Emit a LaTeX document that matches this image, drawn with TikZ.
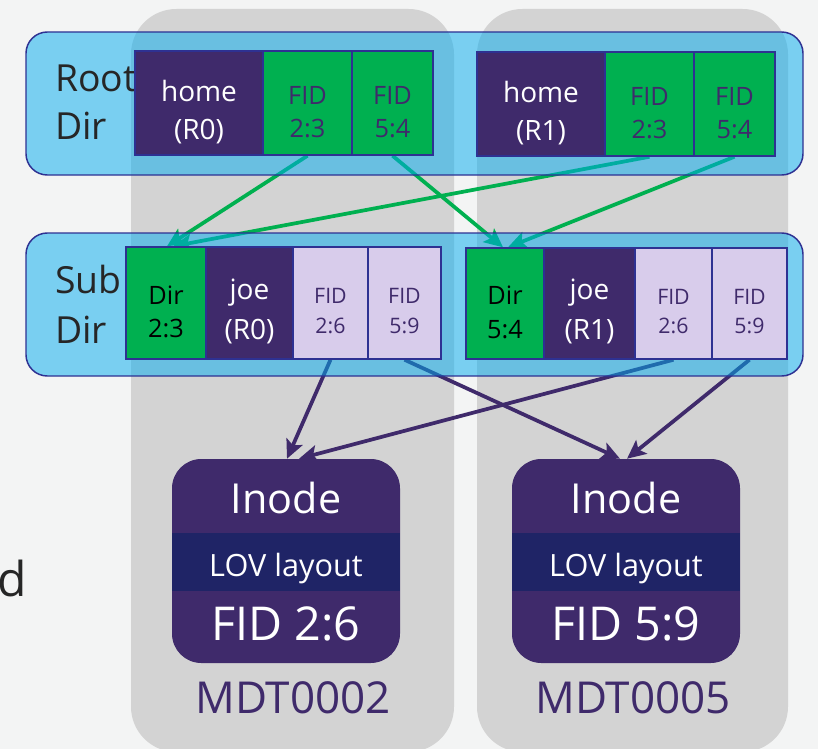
\documentclass[tikz,border=0pt]{standalone}
\usepackage{fontspec}
\setmainfont{Open Sans}
\usetikzlibrary{arrows.meta,calc,fit}

\definecolor{pagebg}{HTML}{F3F4F4}
\definecolor{colgrey}{HTML}{D3D3D3}
\definecolor{skyfill}{RGB}{0,172,240}
\definecolor{navyline}{HTML}{2E3192}
\definecolor{purp}{HTML}{3F2A6B}
\definecolor{grn}{HTML}{00B050}
\definecolor{lav}{HTML}{D8CCEB}
\definecolor{lovnavy}{HTML}{1F2466}
\definecolor{ink}{HTML}{262626}

\newcommand\txtsize[2]{\fontsize{#1}{#2}\selectfont}

\pgfdeclarelayer{backdrop}
\pgfdeclarelayer{links}
\pgfdeclarelayer{bands}
\pgfsetlayers{backdrop,links,bands,main}

\begin{document}
\begin{tikzpicture}[x=0.75pt,y=-0.75pt,
  column/.style={fill=colgrey, rounded corners=34pt},
  dirband/.style={fill=skyfill, fill opacity=0.5, draw=navyline, line width=1.1pt, rounded corners=16pt},
  bandlabel/.style={anchor=base west, inner sep=0, text=ink, font=\txtsize{28}{30}},
  cell/.style={draw=navyline, line width=1.1pt, inner sep=0},
  celltext/.style={inner sep=0, align=center},
  namecell/.style={cell, fill=purp},
  fidcell/.style={cell, fill=grn},
  childcell/.style={cell, fill=lav},
  nametext/.style={celltext, text=white, font=\txtsize{21}{28}},
  fidtext/.style={celltext, text=purp, font=\txtsize{19}{25}},
  dirtext/.style={celltext, text=black, font=\txtsize{19}{25}},
  joetext/.style={celltext, text=white, font=\txtsize{21}{30}},
  childtext/.style={celltext, text=purp, font=\txtsize{16}{22}},
  inode/.style={fill=purp, rounded corners=22pt, inner sep=0},
  inodetext/.style={anchor=base, inner sep=0, text=white},
  mdtlabel/.style={anchor=base, inner sep=0, text=purp, font=\txtsize{33}{36}},
  linktip/.style={-{Stealth[length=14pt,width=13pt,inset=3pt]}},
  greenlink/.style={draw=grn, line width=2.8pt, linktip},
  purplelink/.style={draw=purp, line width=2.8pt, linktip}
]
\useasboundingbox (0,0) rectangle (818,749);

% page, the two MDT columns
\begin{pgfonlayer}{backdrop}
  \begin{scope}
    \clip (0,0) rectangle (818,749);
    \fill[pagebg] (0,0) rectangle (818,749);
    \fill[column] (131,9) rectangle (454,752);
    \fill[column] (477,9) rectangle (788,752);
  \end{scope}
  \node[anchor=base east, inner sep=0, text=ink, font=\txtsize{36}{40}] (frag) at (27,596) {d};
\end{pgfonlayer}

% translucent directory bands with their labels
\begin{pgfonlayer}{bands}
  \path[dirband] (26,32) rectangle (803,175);
  \path[dirband] (26,233) rectangle (803,376);
  \node[bandlabel] (rootA) at (55,92) {Root};
  \node[bandlabel] (rootB) at (55,140) {Dir};
  \node[bandlabel] (subA) at (55,293) {Sub};
  \node[bandlabel] (subB) at (55,343) {Dir};
\end{pgfonlayer}

% root directory entries
\node[namecell,  fit={(135,51)(263,155)}] (rLhome) {};
\node[fidcell,   fit={(263,51)(352,155)}] (rLf23) {};
\node[fidcell,   fit={(352,51)(433,155)}] (rLf54) {};
\node[namecell,  fit={(477,52)(605,156)}] (rRhome) {};
\node[fidcell,   fit={(605,52)(694,156)}] (rRf23) {};
\node[fidcell,   fit={(694,52)(775,156)}] (rRf54) {};
\node[nametext] (rLhomeT) at ($(rLhome.center)+(0,9)$) {home\\(R0)};
\node[fidtext]  (rLf23T)  at ($(rLf23.center)+(0,9)$)  {FID\\2:3};
\node[fidtext]  (rLf54T)  at ($(rLf54.center)+(0,9)$)  {FID\\5:4};
\node[nametext] (rRhomeT) at ($(rRhome.center)+(0,9)$) {home\\(R1)};
\node[fidtext]  (rRf23T)  at ($(rRf23.center)+(0,9)$)  {FID\\2:3};
\node[fidtext]  (rRf54T)  at ($(rRf54.center)+(0,9)$)  {FID\\5:4};

% sub directory entries
\node[fidcell,   fit={(126,247)(206,359)}] (sLdir) {};
\node[namecell,  fit={(206,247)(293,359)}] (sLjoe) {};
\node[childcell, fit={(293,247)(368,359)}] (sLf26) {};
\node[childcell, fit={(368,247)(441,359)}] (sLf59) {};
\node[fidcell,   fit={(466,248)(544,359)}] (sRdir) {};
\node[namecell,  fit={(544,248)(635,359)}] (sRjoe) {};
\node[childcell, fit={(635,248)(712,359)}] (sRf26) {};
\node[childcell, fit={(712,248)(787,359)}] (sRf59) {};
\node[dirtext]   (sLdirT) at ($(sLdir.center)+(0,9)$) {Dir\\2:3};
\node[joetext]   (sLjoeT) at ($(sLjoe.center)+(0,8)$) {joe\\(R0)};
\node[childtext] (sLf26T) at ($(sLf26.center)+(0,8)$) {FID\\2:6};
\node[childtext] (sLf59T) at ($(sLf59.center)+(0,8)$) {FID\\5:9};
\node[dirtext]   (sRdirT) at ($(sRdir.center)+(0,9)$) {Dir\\5:4};
\node[joetext]   (sRjoeT) at ($(sRjoe.center)+(0,8)$) {joe\\(R1)};
\node[childtext] (sRf26T) at ($(sRf26.center)+(0,8)$) {FID\\2:6};
\node[childtext] (sRf59T) at ($(sRf59.center)+(0,8)$) {FID\\5:9};

% inodes
\node[inode, fit={(172,459)(400,663)}] (inL) {};
\fill[lovnavy] (172,533) rectangle (400,591);
\node[inodetext, font=\txtsize{31}{34}] (inLa) at (286,513) {Inode};
\node[inodetext, font=\txtsize{23}{26}] (inLb) at (286,576) {LOV layout};
\node[inodetext, font=\txtsize{35}{38}] (inLc) at (286,640) {FID 2:6};

\node[inode, fit={(512,459)(740,663)}] (inR) {};
\fill[lovnavy] (512,533) rectangle (740,591);
\node[inodetext, font=\txtsize{31}{34}] (inRa) at (626,513) {Inode};
\node[inodetext, font=\txtsize{23}{26}] (inRb) at (626,576) {LOV layout};
\node[inodetext, font=\txtsize{35}{38}] (inRc) at (626,640) {FID 5:9};

\node[mdtlabel] (mdtA) at (293,713) {MDT0002};
\node[mdtlabel] (mdtB) at (633,713) {MDT0005};

% links, kept beneath the translucent bands
\begin{pgfonlayer}{links}
  \draw[greenlink] (rLf23.south) -- ($(sLdir.north)+(1,0)$);
  \draw[greenlink] (rRf23.south) -- ($(sLdir.north)+(7,0)$);
  \draw[greenlink] (rLf54.south) -- ($(sRdir.north)+(-2,0)$);
  \draw[greenlink] (rRf54.south) -- ($(sRdir.north)+(3,0)$);
  \draw[purplelink] (sLf26.south) -- ($(inL.north)+(1,0)$);
  \draw[purplelink] (sRf26.south) -- ($(inL.north)+(13,0)$);
  \draw[purplelink] (sLf59.south) -- ($(inR.north)+(-6,0)$);
  \draw[purplelink] (sRf59.south) -- ($(inR.north)+(1,0)$);
\end{pgfonlayer}
\end{tikzpicture}
\end{document}
